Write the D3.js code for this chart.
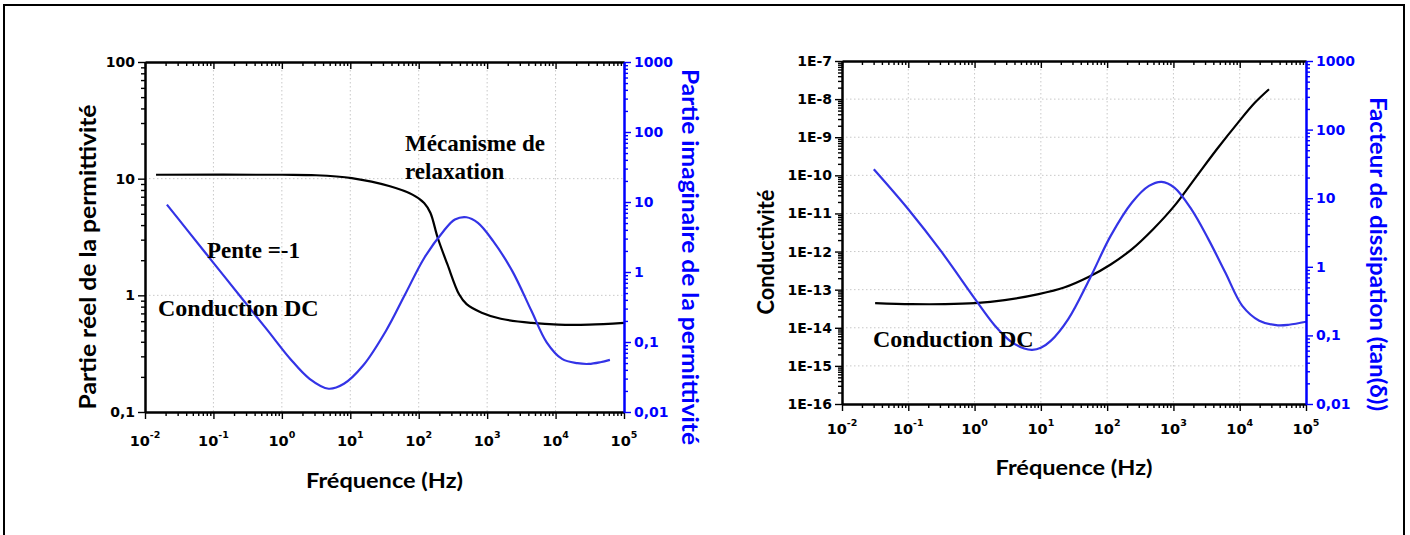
<!DOCTYPE html>
<html><head><meta charset="utf-8">
<script src="https://cdn.jsdelivr.net/npm/d3@7"></script>
<style>body{margin:0;background:#fff} svg{display:block}</style>
</head><body>
<svg id="c" width="1410" height="535"></svg>
<script>
// ---------- data ----------
const freqTicks = [1e-2, 1e-1, 1e0, 1e1, 1e2, 1e3, 1e4, 1e5];
const freqExponents = ["-2", "-1", "0", "1", "2", "3", "4", "5"];

const epsRealTicks = [0.1, 1, 10, 100];
const epsRealLabels = ["0,1", "1", "10", "100"];
const epsImagTicks = [0.01, 0.1, 1, 10, 100, 1000];
const epsImagLabels = ["0,01", "0,1", "1", "10", "100", "1000"];
const condTicks = [1e-16, 1e-15, 1e-14, 1e-13, 1e-12, 1e-11, 1e-10, 1e-9, 1e-8, 1e-7];
const condLabels = ["1E-16", "1E-15", "1E-14", "1E-13", "1E-12", "1E-11", "1E-10", "1E-9", "1E-8", "1E-7"];
const tanTicks = [0.01, 0.1, 1, 10, 100, 1000];
const tanLabels = ["0,01", "0,1", "1", "10", "100", "1000"];

// left panel: real part of permittivity
const epsRealFreq = [0.0145, 1.02, 3.16, 10.5, 38, 81, 120, 148, 190, 263, 389, 501, 832, 1585, 4467, 10965, 30903, 100000];
const epsRealVal  = [10.8, 10.8, 10.7, 10.1, 8.6, 7.3, 6.2, 5.1, 3.1, 1.84, 1.02, 0.84, 0.71, 0.63, 0.58, 0.56, 0.56, 0.58];
// left panel: imaginary part of permittivity
const epsImagFreq = [0.0209, 0.0412, 0.1014, 0.251, 0.615, 1.33, 2.54, 4.83, 8.07, 15.4, 33.3, 63.4, 121, 230, 338, 498, 733, 1225, 2333, 4436, 7413, 12417, 20797, 30620, 45082, 62230];
const epsImagVal  = [9.16, 4.0, 1.33, 0.44, 0.148, 0.0573, 0.0298, 0.0215, 0.0253, 0.0461, 0.145, 0.481, 1.6, 3.83, 5.61, 6.05, 5.02, 2.76, 1.03, 0.279, 0.0989, 0.0573, 0.0498, 0.0486, 0.0514, 0.0555];
// right panel: conductivity
const condFreq = [0.0316, 0.111, 0.360, 1.01, 2.84, 9.25, 22.4, 54.2, 113, 237, 494, 1033, 2163, 4519, 9441, 17022, 27669];
const condVal  = [4.45e-14, 4.18e-14, 4.18e-14, 4.45e-14, 5.32e-14, 7.64e-14, 1.14e-13, 2.22e-13, 4.58e-13, 1.16e-12, 3.86e-12, 1.58e-11, 8.75e-11, 4.83e-10, 2.42e-9, 8.09e-9, 1.81e-8];
// right panel: dissipation factor tan(delta)
const tanFreq = [0.0302, 0.1, 0.316, 1.0, 2.0, 3.55, 5.62, 7.41, 10.0, 14.1, 25.9, 54.2, 113, 237, 427, 664, 1033, 1862, 3365, 6067, 10940, 19724, 35563, 55335, 100000];
const tanVal  = [26.4, 6.9, 1.66, 0.347, 0.141, 0.0813, 0.0646, 0.0617, 0.0661, 0.0832, 0.173, 0.661, 2.82, 8.65, 15.1, 17.3, 14.3, 6.92, 2.53, 0.826, 0.270, 0.164, 0.141, 0.143, 0.158];

// ---------- drawing ----------
const svg = d3.select("#c");
const BLUE = "#0000ff", CURVE_BLUE = "#3333e6";
const SANS = "'DejaVu Sans', sans-serif";
const TITLE = "Lato, 'Open Sans', sans-serif";
const SERIF = "'Liberation Serif', 'DejaVu Serif', serif";

svg.append("rect").attr("x", 4).attr("y", 5).attr("width", 1400).attr("height", 600)
  .attr("fill", "none").attr("stroke", "#000").attr("stroke-width", 2);

function minors(domain) {
  const out = [];
  const lo = Math.round(Math.log10(domain[0])), hi = Math.round(Math.log10(domain[1]));
  for (let d = lo; d < hi; d++) for (let k = 2; k <= 9; k++) out.push(k * Math.pow(10, d));
  return out;
}

function styleAxis(g, color, w) {
  g.select(".domain").attr("stroke", color).attr("stroke-width", 2);
  g.selectAll(".tick line").attr("stroke", color).attr("stroke-width", w || 1.4);
  g.selectAll(".tick text").remove();
}

function panel(o) {
  const g = svg.append("g");
  const x = d3.scaleLog().domain([1e-2, 1e5]).range([o.x0, o.x1]);
  const yL = d3.scaleLog().domain(o.yLDomain).range([o.y1, o.y0]);
  const yR = d3.scaleLog().domain(o.yRDomain).range([o.y1, o.y0]);

  // grid
  const grid = g.append("g").attr("stroke", "#c8c8c8").attr("stroke-width", 1).attr("stroke-dasharray", "1.5,2.5");
  freqTicks.slice(1, -1).forEach(v => grid.append("line").attr("x1", x(v)).attr("x2", x(v)).attr("y1", o.y0).attr("y2", o.y1));
  o.yLTicks.slice(1, -1).forEach(v => grid.append("line").attr("x1", o.x0).attr("x2", o.x1).attr("y1", yL(v)).attr("y2", yL(v)));

  // curves
  const cv = d3.curveCatmullRom.alpha(0.5);
  const lineL = d3.line().x(d => x(d[0])).y(d => yL(d[1])).curve(cv);
  const lineR = d3.line().x(d => x(d[0])).y(d => yR(d[1])).curve(cv);
  g.append("path").datum(d3.zip(o.lf, o.lv)).attr("d", lineL).attr("fill", "none").attr("stroke", "#000").attr("stroke-width", 2.2);
  g.append("path").datum(d3.zip(o.rf, o.rv)).attr("d", lineR).attr("fill", "none").attr("stroke", CURVE_BLUE).attr("stroke-width", 2.2);

  // axes
  const xMin = minors([1e-2, 1e5]);
  g.append("g").attr("transform", `translate(0,${o.y1})`).call(d3.axisBottom(x).tickValues(xMin).tickSize(4).tickSizeOuter(0)).call(a => styleAxis(a, "#000"));
  g.append("g").attr("transform", `translate(0,${o.y1})`).call(d3.axisBottom(x).tickValues(freqTicks).tickSize(7).tickSizeOuter(0)).call(a => styleAxis(a, "#000"));
  g.append("g").attr("transform", `translate(0,${o.y0})`).call(d3.axisBottom(x).tickValues(xMin).tickSize(4).tickSizeOuter(0)).call(a => styleAxis(a, "#000"));
  g.append("g").attr("transform", `translate(0,${o.y0})`).call(d3.axisBottom(x).tickValues(freqTicks).tickSize(7).tickSizeOuter(0)).call(a => styleAxis(a, "#000"));
  g.append("g").attr("transform", `translate(${o.x0},0)`).call(d3.axisLeft(yL).tickValues(minors(o.yLDomain)).tickSize(4).tickSizeOuter(0)).call(a => styleAxis(a, "#000"));
  g.append("g").attr("transform", `translate(${o.x0},0)`).call(d3.axisLeft(yL).tickValues(o.yLTicks).tickSize(7).tickSizeOuter(0)).call(a => styleAxis(a, "#000"));
  g.append("g").attr("transform", `translate(${o.x1},0)`).call(d3.axisRight(yR).tickValues(minors(o.yRDomain)).tickSize(4).tickSizeOuter(0)).call(a => styleAxis(a, BLUE));
  g.append("g").attr("transform", `translate(${o.x1},0)`).call(d3.axisRight(yR).tickValues(o.yRTicks).tickSize(7).tickSizeOuter(0)).call(a => styleAxis(a, BLUE));

  // x tick labels
  freqTicks.forEach((v, i) => {
    const t = g.append("text").attr("x", x(v)).attr("y", o.xLabelY).attr("text-anchor", "middle")
      .attr("font-family", SANS).attr("font-weight", "bold").attr("font-size", 14.5).attr("fill", "#000");
    t.append("tspan").text("10");
    t.append("tspan").attr("dy", -8).attr("font-size", 9.5).text(freqExponents[i]);
  });
  // y tick labels
  o.yLTicks.forEach((v, i) => g.append("text").attr("x", o.x0 - 10).attr("y", yL(v)).attr("dy", "0.36em")
    .attr("text-anchor", "end").attr("font-family", SANS).attr("font-weight", "bold").attr("font-size", 14)
    .attr("fill", "#000").text(o.yLLabels[i]));
  o.yRTicks.forEach((v, i) => g.append("text").attr("x", o.x1 + 10).attr("y", yR(v)).attr("dy", "0.36em")
    .attr("text-anchor", "start").attr("font-family", SANS).attr("font-weight", "bold").attr("font-size", 14)
    .attr("fill", BLUE).text(o.yRLabels[i]));

  // titles
  g.append("text").attr("x", (o.x0 + o.x1) / 2).attr("y", o.xTitleY).attr("text-anchor", "middle")
    .attr("font-family", TITLE).attr("font-weight", "bold").attr("font-size", 21).attr("fill", "#000")
    .attr("textLength", 157).attr("lengthAdjust", "spacingAndGlyphs").text("Fréquence (Hz)");
  g.append("text").attr("transform", `translate(${o.yLTitleX},${o.yLTitleY}) rotate(-90)`).attr("text-anchor", "middle")
    .attr("dy", "0.35em").attr("font-family", TITLE).attr("font-weight", "bold").attr("font-size", 22).attr("fill", "#000")
    .attr("textLength", o.yLTitleLen).attr("lengthAdjust", "spacingAndGlyphs").text(o.yLTitle);
  g.append("text").attr("transform", `translate(${o.yRTitleX},${o.yRTitleY}) rotate(90)`).attr("text-anchor", "middle")
    .attr("dy", "0.35em").attr("font-family", TITLE).attr("font-weight", "bold").attr("font-size", 22).attr("fill", BLUE)
    .attr("textLength", o.yRTitleLen).attr("lengthAdjust", "spacingAndGlyphs").text(o.yRTitle);

  // annotations
  o.notes.forEach(n => g.append("text").attr("x", n[0]).attr("y", n[1]).attr("font-family", SERIF)
    .attr("font-weight", "bold").attr("font-size", n[3]).attr("fill", "#000").text(n[2]));
}

panel({
  x0: 145, x1: 624, y0: 62, y1: 412,
  yLDomain: [0.1, 100], yRDomain: [0.01, 1000],
  yLTicks: epsRealTicks, yLLabels: epsRealLabels,
  yRTicks: epsImagTicks, yRLabels: epsImagLabels,
  lf: epsRealFreq, lv: epsRealVal, rf: epsImagFreq, rv: epsImagVal,
  xLabelY: 446, xTitleY: 488,
  yLTitle: "Partie réel de la permittivité", yLTitleX: 88, yLTitleY: 257, yLTitleLen: 305,
  yRTitle: "Partie imaginaire de la permittivité", yRTitleX: 690, yRTitleY: 257, yRTitleLen: 376,
  notes: [[405, 151, "Mécanisme de", 23], [405, 179, "relaxation", 23], [207, 258, "Pente =-1", 23], [158, 316, "Conduction DC", 24]]
});

panel({
  x0: 842, x1: 1306, y0: 61, y1: 404,
  yLDomain: [1e-16, 1e-7], yRDomain: [0.01, 1000],
  yLTicks: condTicks, yLLabels: condLabels,
  yRTicks: tanTicks, yRLabels: tanLabels,
  lf: condFreq, lv: condVal, rf: tanFreq, rv: tanVal,
  xLabelY: 434, xTitleY: 475,
  yLTitle: "Conductivité", yLTitleX: 766, yLTitleY: 252, yLTitleLen: 125,
  yRTitle: "Facteur de dissipation (tan(δ))", yRTitleX: 1378, yRTitleY: 254, yRTitleLen: 314,
  notes: [[873, 347, "Conduction DC", 24]]
});
</script>
</body></html>
